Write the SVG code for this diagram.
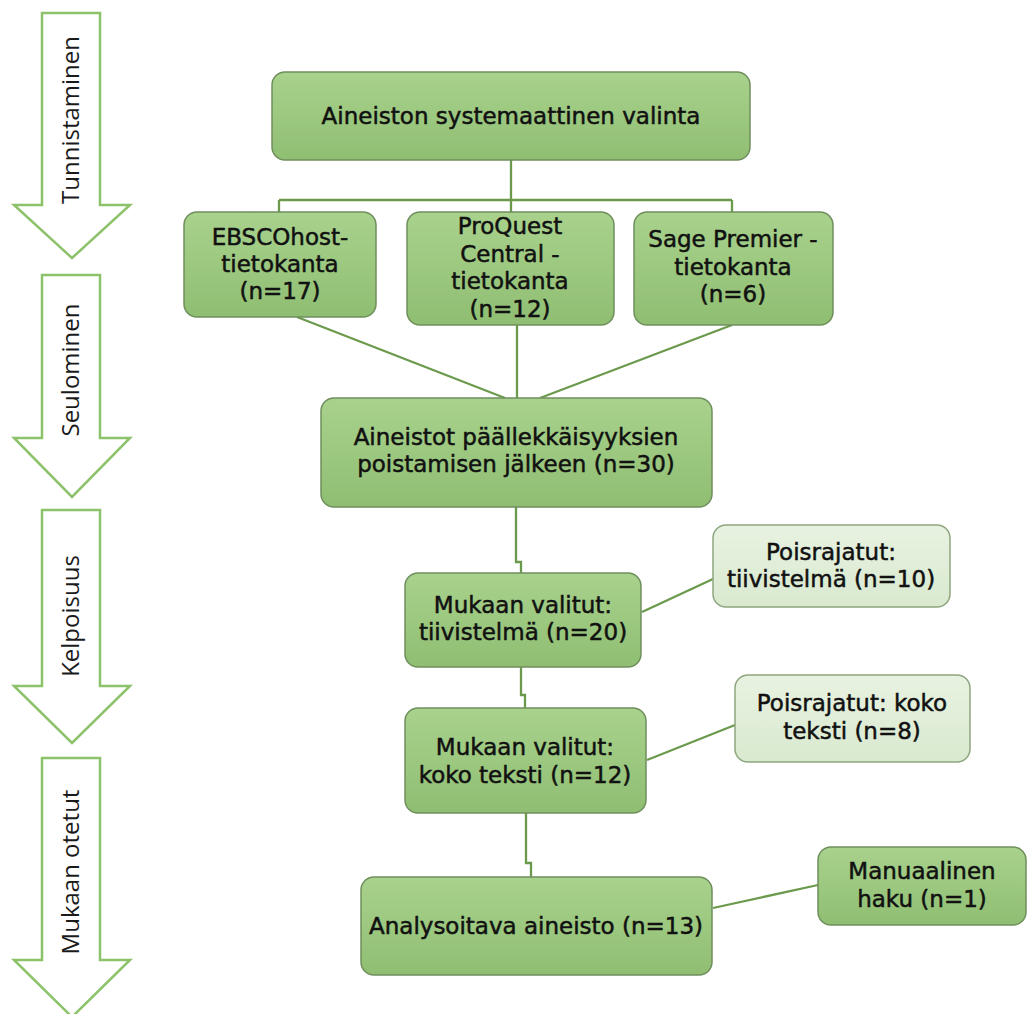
<svg xmlns="http://www.w3.org/2000/svg" width="1027" height="1014" viewBox="0 0 1027 1014">
<style>
.bg{fill:#ffffff}
.stage{fill:#ffffff;stroke:#8cc26a;stroke-width:2.5;stroke-linejoin:miter}
.stlbl{font-family:"Open Sans","Liberation Sans",sans-serif;font-size:24px;fill:#1a1a1a;text-anchor:middle}
.box{fill:url(#g1);stroke:#6f8f5d;stroke-width:1.5}
.lbox{fill:url(#g2);stroke:#8ea67f;stroke-width:1.5}
.t{font-family:"DejaVu Sans","Open Sans",sans-serif;font-size:23px;fill:#111;stroke:#111;stroke-width:0.5;text-anchor:middle}
.con{fill:none;stroke:#6b9a4c;stroke-width:2.3}
</style>
<defs>
<linearGradient id="g1" x1="0" y1="0" x2="0" y2="1">
<stop offset="0" stop-color="#a9d28d"/>
<stop offset="1" stop-color="#8fbe72"/>
</linearGradient>
<linearGradient id="g2" x1="0" y1="0" x2="0" y2="1">
<stop offset="0" stop-color="#e8f2e1"/>
<stop offset="1" stop-color="#d9e9cf"/>
</linearGradient>
</defs>
<rect class="bg" x="0" y="0" width="1027" height="1014"/>

<g id="stages">
<g id="stage-tunnistaminen">
<path class="stage" d="M42,13 H100 V205 H130 L72,258 L14,205 H42 Z"/>
<text class="stlbl" transform="translate(79,120) rotate(-90)">Tunnistaminen</text>
</g>
<g id="stage-seulominen">
<path class="stage" d="M42,275 H100 V438 H130 L72,497 L14,438 H42 Z"/>
<text class="stlbl" transform="translate(79,370) rotate(-90)">Seulominen</text>
</g>
<g id="stage-kelpoisuus">
<path class="stage" d="M42,510 H100 V686 H130 L72,743 L14,686 H42 Z"/>
<text class="stlbl" transform="translate(79,616) rotate(-90)">Kelpoisuus</text>
</g>
<g id="stage-mukaan">
<path class="stage" d="M42,758 H100 V960 H130 L72,1017 L14,960 H42 Z"/>
<text class="stlbl" transform="translate(79,872) rotate(-90)">Mukaan otetut</text>
</g>
</g>

<g id="connectors">
<path class="con" d="M511,160 V200 M279,200 H732 M279,200 V212 M511,200 V212 M732,200 V212"/>
<path class="con" d="M297,317 L505,398"/>
<path class="con" d="M517,325 V398"/>
<path class="con" d="M732,325 L540,398"/>
<path class="con" d="M516,507 V562 H521 V573"/>
<path class="con" d="M642,612 L713,579"/>
<path class="con" d="M521,667 V695 H525 V708"/>
<path class="con" d="M647,760 L735,725"/>
<path class="con" d="M526,813 V863 H531 V877"/>
<path class="con" d="M713,908 L818,885"/>
</g>

<g id="n-valinta">
<rect class="box" x="272" y="72" width="478" height="88" rx="13"/>
<text class="t" x="511" y="124">Aineiston systemaattinen valinta</text>
</g>
<g id="n-ebsco">
<rect class="box" x="184" y="212" width="192" height="105" rx="13"/>
<text class="t" x="280" y="245">EBSCOhost-</text>
<text class="t" x="280" y="272">tietokanta</text>
<text class="t" x="280" y="299">(n=17)</text>
</g>
<g id="n-proquest">
<rect class="box" x="407" y="212" width="207" height="113" rx="13"/>
<text class="t" x="510" y="234">ProQuest</text>
<text class="t" x="510" y="262">Central -</text>
<text class="t" x="510" y="289">tietokanta</text>
<text class="t" x="510" y="317">(n=12)</text>
</g>
<g id="n-sage">
<rect class="box" x="634" y="212" width="199" height="113" rx="13"/>
<text class="t" x="733" y="247">Sage Premier -</text>
<text class="t" x="733" y="275">tietokanta</text>
<text class="t" x="733" y="302">(n=6)</text>
</g>
<g id="n-paallekkaisyydet">
<rect class="box" x="321" y="398" width="391" height="109" rx="13"/>
<text class="t" x="516" y="445">Aineistot päällekkäisyyksien</text>
<text class="t" x="516" y="472">poistamisen jälkeen (n=30)</text>
</g>
<g id="n-tiivistelma">
<rect class="box" x="405" y="573" width="236" height="94" rx="13"/>
<text class="t" x="523" y="613">Mukaan valitut:</text>
<text class="t" x="523" y="640">tiivistelmä (n=20)</text>
</g>
<g id="n-pois-tiivistelma">
<rect class="lbox" x="713" y="525" width="237" height="82" rx="13"/>
<text class="t" x="831" y="560">Poisrajatut:</text>
<text class="t" x="831" y="587">tiivistelmä (n=10)</text>
</g>
<g id="n-kokoteksti">
<rect class="box" x="405" y="708" width="241" height="105" rx="13"/>
<text class="t" x="525" y="755">Mukaan valitut:</text>
<text class="t" x="525" y="783">koko teksti (n=12)</text>
</g>
<g id="n-pois-koko">
<rect class="lbox" x="735" y="675" width="235" height="87" rx="13"/>
<text class="t" x="852" y="711">Poisrajatut: koko</text>
<text class="t" x="852" y="739">teksti (n=8)</text>
</g>
<g id="n-analysoitava">
<rect class="box" x="361" y="877" width="351" height="98" rx="13"/>
<text class="t" x="536" y="934">Analysoitava aineisto (n=13)</text>
</g>
<g id="n-manuaalinen">
<rect class="box" x="818" y="847" width="208" height="78" rx="13"/>
<text class="t" x="922" y="879">Manuaalinen</text>
<text class="t" x="922" y="907">haku (n=1)</text>
</g>
</svg>
